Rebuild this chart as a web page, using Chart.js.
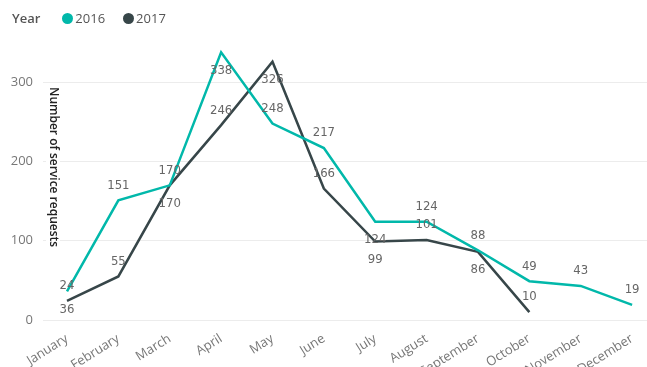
<!DOCTYPE html>
<html>
<head>
<meta charset="utf-8">
<script src="https://cdn.jsdelivr.net/npm/chart.js@4/dist/chart.umd.min.js"></script>
<style>
    html, body { margin: 0; padding: 0; background: #fff; }
    #wrap { position: relative; width: 647px; height: 367px; }
    #legend {
        position: absolute; left: 12px; top: 8px;
        font-family: "Open Sans", sans-serif; font-size: 13px; color: #555;
        display: flex; align-items: center; height: 20px;
    }
    #legend .title { font-weight: 600; margin-right: 22px; }
    #legend .item { display: flex; align-items: center; margin-right: 18px; }
    #legend .dot { width: 11px; height: 11px; border-radius: 50%; margin-right: 2px; }
</style>
</head>
<body>
<div id="wrap">
    <canvas id="requestsChart" width="647" height="367"></canvas>
    <div id="legend"></div>
</div>
<script>
const months = ['January', 'February', 'March', 'April', 'May', 'June',
    'July', 'August', 'September', 'October', 'November', 'December'];
const requests2016 = [36, 151, 170, 338, 248, 217, 124, 124, 88, 49, 43, 19];
const requests2017 = [24, 55, 170, 246, 326, 166, 99, 101, 86, 10];
const yTicks = [0, 100, 200, 300];

const teal = '#01B8AA';
const slate = '#374649';

const legend = document.getElementById('legend');
legend.innerHTML = `
    <span class="title">Year</span>
    <span class="item"><span class="dot" style="background:${teal}"></span>2016</span>
    <span class="item"><span class="dot" style="background:${slate}"></span>2017</span>
`;

const toPoints = arr => arr.map((v, i) => ({ x: i, y: v }));

// value labels, each point placed above or below its line
const valueLabels = {
    id: 'valueLabels',
    afterDatasetsDraw(chart) {
        const ctx = chart.ctx;
        ctx.save();
        ctx.font = '13px "DejaVu Sans Condensed", sans-serif';
        ctx.fillStyle = '#666';
        ctx.textAlign = 'center';
        ctx.textBaseline = 'middle';
        chart.data.datasets.forEach((ds, di) => {
            const meta = chart.getDatasetMeta(di);
            meta.data.forEach((pt, i) => {
                const below = ds.labelSide[i] === 'b';
                ctx.fillText(ds.data[i].y, pt.x, pt.y + (below ? 18 : -15));
            });
        });
        ctx.restore();
    }
};

// vertical axis title running top to bottom over the plot
const axisTitle = {
    id: 'axisTitle',
    afterDraw(chart) {
        const ctx = chart.ctx;
        ctx.save();
        ctx.fillStyle = '#fff';
        ctx.fillRect(46, 84, 14, 164);
        ctx.translate(47, 87);
        ctx.rotate(Math.PI / 2);
        ctx.font = '600 12px "Open Sans", sans-serif';
        ctx.fillStyle = '#222';
        ctx.textAlign = 'left';
        ctx.textBaseline = 'bottom';
        ctx.fillText('Number of service requests', 0, 0);
        ctx.restore();
    }
};

new Chart(document.getElementById('requestsChart'), {
    type: 'line',
    data: {
        datasets: [
            {
                label: '2016',
                data: toPoints(requests2016),
                borderColor: teal,
                borderWidth: 2.5,
                pointRadius: 0,
                tension: 0,
                labelSide: ['b', 'a', 'a', 'b', 'a', 'a', 'b', 'a', 'a', 'a', 'a', 'a']
            },
            {
                label: '2017',
                data: toPoints(requests2017),
                borderColor: slate,
                borderWidth: 2.5,
                pointRadius: 0,
                tension: 0,
                labelSide: ['a', 'a', 'b', 'a', 'b', 'a', 'b', 'a', 'b', 'a']
            }
        ]
    },
    options: {
        responsive: false,
        animation: false,
        layout: { padding: { top: 38, left: 0, right: 0, bottom: 0 } },
        plugins: {
            legend: { display: false },
            tooltip: { enabled: false }
        },
        scales: {
            x: {
                type: 'linear',
                min: -0.467,
                max: 11.29,
                grid: { display: false },
                border: { display: false },
                afterBuildTicks: s => { s.ticks = months.map((m, i) => ({ value: i })); },
                afterFit: s => { s.height = 47; s.paddingLeft = 0; s.paddingRight = 0; },
                ticks: {
                    autoSkip: false,
                    minRotation: 32,
                    maxRotation: 32,
                    padding: 3,
                    color: '#777',
                    font: { family: '"Open Sans", sans-serif', size: 13 },
                    callback: v => months[v]
                }
            },
            y: {
                min: 0,
                max: 356,
                afterBuildTicks: s => { s.ticks = yTicks.map(v => ({ value: v })); },
                afterFit: s => { s.width = 43; },
                grid: { color: '#ececec', lineWidth: 1, drawTicks: false },
                border: { display: false },
                ticks: {
                    padding: 10,
                    color: '#777',
                    font: { family: '"Open Sans", sans-serif', size: 13 }
                }
            }
        }
    },
    plugins: [valueLabels, axisTitle]
});
</script>
</body>
</html>
